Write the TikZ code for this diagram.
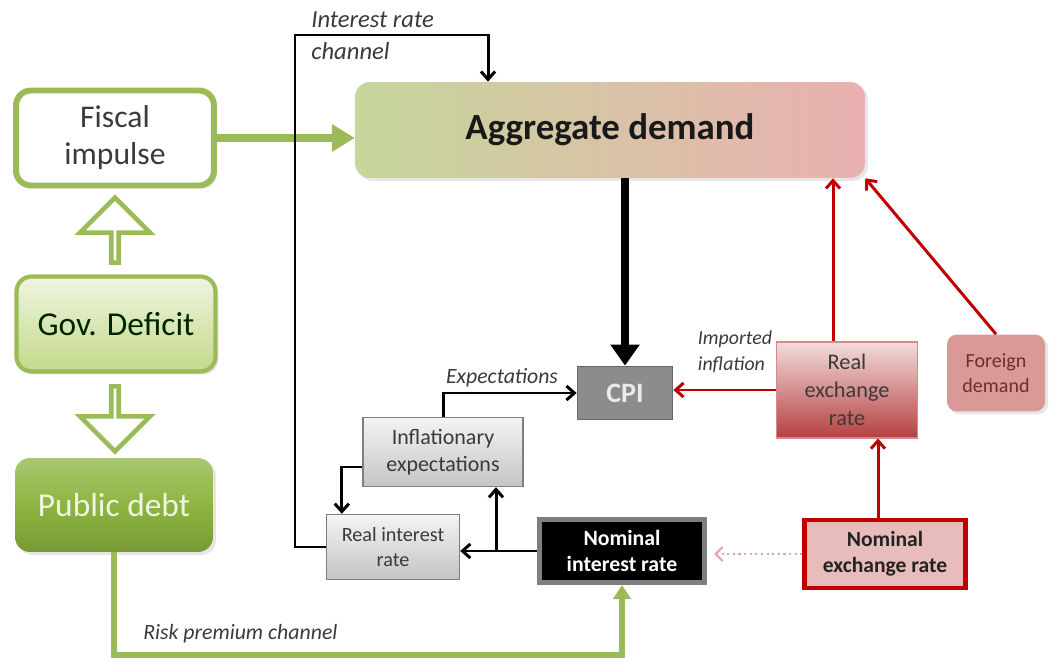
\documentclass[tikz,border=0pt]{standalone}
\usepackage{fontspec}
\setmainfont{Carlito}
\usepackage{xcolor}
\usepackage{tikz}
\usetikzlibrary{positioning}
\usetikzlibrary{arrows.meta}
\usetikzlibrary{shapes.arrows}
\usetikzlibrary{shadows}

\definecolor{grn}{HTML}{9BBB59}
\definecolor{grnL}{HTML}{F0F5E1}
\definecolor{grnM}{HTML}{C3D98A}
\definecolor{grnD}{HTML}{8DB540}
\definecolor{adL}{HTML}{C6D69C}
\definecolor{adM}{HTML}{BDBDBD}
\definecolor{adR}{HTML}{EAB0B0}
\definecolor{redD}{HTML}{C00000}
\definecolor{rexT}{HTML}{F3DCDC}
\definecolor{rexB}{HTML}{B54040}
\definecolor{fdem}{HTML}{DA9897}
\definecolor{nexF}{HTML}{E8BCBB}
\definecolor{gryT}{HTML}{F4F4F4}
\definecolor{gryB}{HTML}{C4C4C4}
\definecolor{gryE}{HTML}{7F7F7F}
\definecolor{cpiF}{HTML}{8C8C8C}
\definecolor{txtg}{HTML}{3A3A3A}
\definecolor{dotp}{HTML}{E3A5A5}

\tikzset{
  bigbox/.style={rounded corners=0.3cm, align=center, inner sep=0pt, text=txtg,
    font=\fontsize{18}{21}\selectfont},
  greybox/.style={draw=gryE, line width=0.8pt, top color=gryT, bottom color=gryB,
    align=center, inner sep=0pt, text=txtg},
  hollow/.style={single arrow, draw=grn, fill=white, line width=2.6pt, inner sep=0pt,
    minimum width=1.4cm, minimum height=1.3cm, single arrow head extend=0.38cm,
    single arrow head indent=0pt},
  lbl/.style={font=\itshape\fontsize{12.4}{15}\selectfont, text=txtg, inner sep=0pt},
  blkarrow/.style={line width=1.7pt, -{Straight Barb[length=4.5pt,width=8pt]}},
  redarrow/.style={redD, line width=1.7pt, -{Straight Barb[length=4.5pt,width=8pt]}},
  softshadow/.style={drop shadow={opacity=0.2, shadow xshift=0.06cm, shadow yshift=-0.06cm}}
}

\begin{document}
\begin{tikzpicture}[x=0.02cm,y=-0.02cm]
\useasboundingbox (0,0) rectangle (1057,662);

% left column
\node[bigbox, draw=grn, line width=3.4pt, fill=white, minimum width=3.96cm,
  minimum height=1.9cm, softshadow] (fiscal) at (115,138) {Fiscal\\impulse};
\node[bigbox, draw=grn, line width=2.4pt, top color=grnL, bottom color=grnM,
  minimum width=3.98cm, minimum height=1.9cm, text=black!85!green,
  font=\fontsize{19}{22}\selectfont, softshadow] (gov) at (116,324) {Gov. Deficit};
\node[bigbox, top color=grnD!75!white, bottom color=grnD!85!black, middle color=grnD,
  minimum width=3.96cm, minimum height=1.88cm, text=grnL,
  font=\fontsize{19}{22}\selectfont, softshadow] (debt) at (114,505) {Public debt};

\node[hollow, shape border rotate=90] (up) at (115,232) {};
\node[hollow, shape border rotate=270] (down) at (115,417) {};

% demand side
\node[rounded corners=0.3cm, left color=adL, middle color=adM, right color=adR,
  minimum width=10.2cm, minimum height=1.92cm, inner sep=0pt, text=black!90,
  font=\bfseries\fontsize{21}{25}\selectfont, softshadow] (ad) at (610,130) {Aggregate demand};

\node[draw=gryE!80!black, line width=1pt, fill=cpiF, minimum width=1.9cm, minimum height=1.06cm,
  inner sep=0pt, text=white!92!black, font=\bfseries\fontsize{16}{19}\selectfont] (cpi) at (625,393) {CPI};

\node[greybox, minimum width=3.2cm, minimum height=1.38cm,
  font=\fontsize{12.5}{15.5}\selectfont] (ie) at (443,452) {Inflationary\\expectations};
\node[greybox, minimum width=2.66cm, minimum height=1.3cm,
  font=\fontsize{11.5}{14.5}\selectfont] (rir) at (393,547) {Real interest\\rate};

\node[draw=gryE, line width=3pt, fill=black, minimum width=3.3cm, minimum height=1.26cm,
  inner sep=0pt, align=center, text=white, font=\bfseries\fontsize{12.4}{15}\selectfont,
  softshadow] (nir) at (622,551) {Nominal\\interest rate};

\node[draw=redD, line width=2.4pt, fill=nexF, minimum width=3.22cm, minimum height=1.36cm,
  inner sep=0pt, align=center, text=txtg!60!black, font=\bfseries\fontsize{12.3}{15}\selectfont]
  (nex) at (885,554) {Nominal\\exchange rate};

\node[draw=rexB!60, line width=0.6pt, top color=rexT, middle color=rexT!85!rexB, bottom color=rexB,
  minimum width=2.82cm, minimum height=1.92cm, inner sep=0pt, align=center, text=txtg,
  font=\fontsize{12.7}{16}\selectfont] (rex) at (847,390) {Real\\exchange\\rate};

\node[rounded corners=0.2cm, fill=fdem, minimum width=1.96cm, minimum height=1.54cm,
  inner sep=0pt, align=center, text=txtg!70!red, font=\fontsize{11.4}{14}\selectfont,
  softshadow] (fd) at (996,373) {Foreign\\demand};

% coordinates for the bends
\coordinate (irc) at (295,35);
\coordinate (adin) at (488,35);
\coordinate (br) at (496,0);
\coordinate (rpc) at (0,655);

% connectors
\draw[grn, line width=5pt, -{Triangle[length=13pt,width=15pt]}] (fiscal.east) -- (fiscal.east -| ad.west);
\draw[grn, line width=3pt, -{Triangle[length=8pt,width=10pt]}] (debt.south) |- (nir.south |- rpc) -- (nir.south);
\draw[line width=4pt, -{Triangle[length=12pt,width=16pt]}] (cpi.north |- ad.south) -- (cpi.north);

\draw[blkarrow] (rir.west) -| (irc) -| (adin |- ad.north);
\draw[blkarrow] (ie.north) |- (cpi.west);
\draw[blkarrow] ([yshift=-0.3cm]ie.west) -| ([xshift=0.32cm]rir.north west);
\draw[blkarrow] (nir.west) -- (nir.west -| rir.east);
\draw[blkarrow] (br |- nir.west) -- (br |- ie.south);

\draw[dotp, line width=1.2pt, dotted, -{Straight Barb[length=4pt,width=8pt]}, shorten >=4pt] (nex.west) -- (nex.west -| nir.east);

\draw[redarrow] (rex.west) -- (rex.west -| cpi.east);
\draw[redarrow] ([xshift=-0.14cm]nex.north) -- ([xshift=-0.14cm]nex.north |- rex.south);
\draw[redarrow] ([xshift=-0.28cm]rex.north) -- ([xshift=-0.28cm]rex.north |- ad.south);
\draw[redarrow] (fd.north) -- (ad.south east);

% labels
\node[lbl, anchor=north west, align=left, font=\itshape\fontsize{14}{18.5}\selectfont] (irclab) at (311,11) {Interest rate\\channel};
\node[lbl] (explab) at (502,378) {Expectations};
\node[lbl, align=left, font=\itshape\fontsize{11.3}{15}\selectfont] (implab) at (735,352) {Imported\\inflation};
\node[lbl, anchor=west] (rplab) at (143,634) {Risk premium channel};

\end{tikzpicture}
\end{document}
